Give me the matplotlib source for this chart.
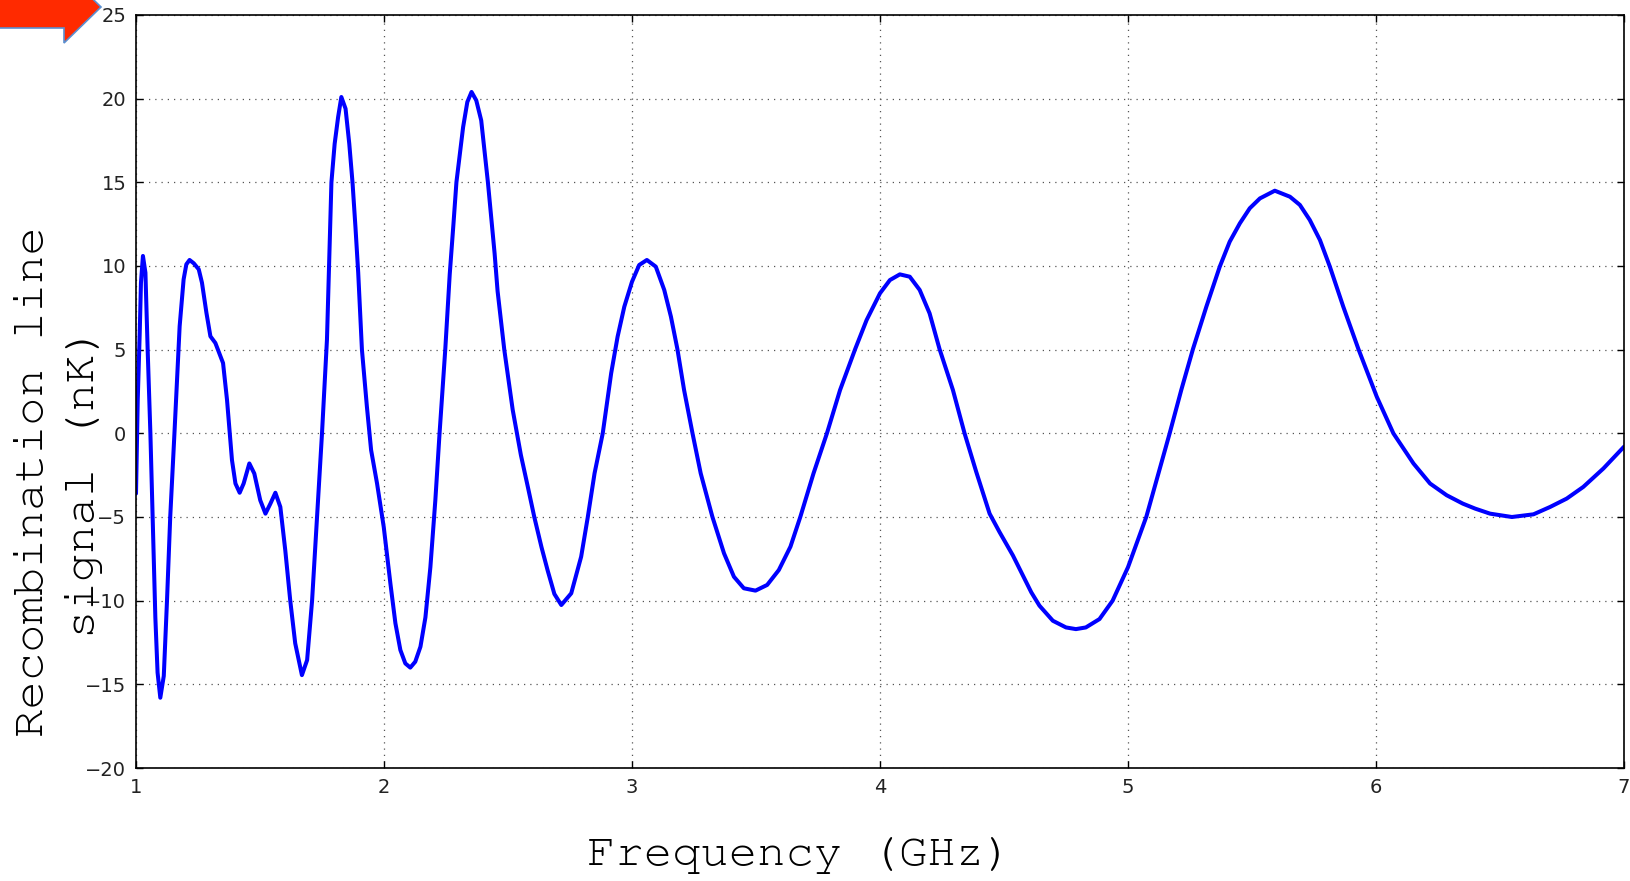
import matplotlib
matplotlib.use("Agg")
import matplotlib.pyplot as plt
from matplotlib.patches import Polygon
import logging
logging.getLogger("matplotlib.font_manager").setLevel(logging.ERROR)

# ---- data ----
freq_ghz = [
    1.000, 1.007, 1.015, 1.020, 1.028, 1.038, 1.047, 1.058, 1.069, 1.078,
    1.087, 1.098, 1.112, 1.125, 1.138, 1.155, 1.176, 1.192, 1.203, 1.216,
    1.233, 1.253, 1.266, 1.284, 1.300, 1.320, 1.351, 1.367, 1.387, 1.401,
    1.418, 1.434, 1.457, 1.477, 1.501, 1.522, 1.542, 1.562, 1.582, 1.602,
    1.622, 1.642, 1.669, 1.690, 1.710, 1.730, 1.750, 1.770, 1.788, 1.801,
    1.815, 1.828, 1.845, 1.860, 1.873, 1.885, 1.896, 1.911, 1.931, 1.948,
    1.972, 1.999, 2.026, 2.046, 2.066, 2.086, 2.106, 2.126, 2.147, 2.167,
    2.187, 2.207, 2.224, 2.247, 2.265, 2.280, 2.292, 2.319, 2.336, 2.353,
    2.372, 2.392, 2.419, 2.446, 2.458, 2.485, 2.519, 2.552, 2.580, 2.606,
    2.635, 2.660, 2.687, 2.715, 2.755, 2.795, 2.822, 2.849, 2.882, 2.916,
    2.942, 2.969, 3.000, 3.029, 3.060, 3.096, 3.130, 3.157, 3.183, 3.210,
    3.244, 3.277, 3.324, 3.371, 3.411, 3.451, 3.498, 3.545, 3.592, 3.639,
    3.679, 3.732, 3.786, 3.839, 3.900, 3.946, 4.000, 4.040, 4.080, 4.120,
    4.160, 4.200, 4.240, 4.294, 4.341, 4.388, 4.442, 4.482, 4.536, 4.580,
    4.610, 4.643, 4.697, 4.750, 4.790, 4.830, 4.885, 4.938, 5.000, 5.074,
    5.121, 5.168, 5.215, 5.262, 5.316, 5.370, 5.410, 5.451, 5.491, 5.532,
    5.592, 5.653, 5.693, 5.733, 5.774, 5.814, 5.868, 5.929, 6.003, 6.070,
    6.151, 6.218, 6.285, 6.350, 6.400, 6.460, 6.548, 6.635, 6.702, 6.769,
    6.836, 6.917, 7.000,
]
signal_nk = [
    -3.6, 2.0, 6.0, 9.0, 10.6, 9.6, 5.0, 0.0, -6.0, -11.0,
    -14.3, -15.8, -14.5, -10.0, -5.0, 0.0, 6.4, 9.2, 10.1, 10.36,
    10.16, 9.8, 9.0, 7.2, 5.8, 5.4, 4.2, 2.0, -1.6, -3.0,
    -3.55, -3.0, -1.8, -2.4, -4.0, -4.8, -4.2, -3.55, -4.4, -7.0,
    -10.0, -12.55, -14.45, -13.55, -10.0, -5.0, 0.0, 5.6, 15.0, 17.3,
    18.9, 20.1, 19.4, 17.3, 15.0, 12.3, 9.6, 5.0, 1.6, -1.0,
    -3.0, -5.6, -9.0, -11.35, -12.95, -13.75, -14.0, -13.65, -12.75, -11.0,
    -8.0, -4.0, 0.0, 5.0, 9.5, 12.5, 15.0, 18.3, 19.8, 20.4,
    19.9, 18.7, 15.0, 10.75, 8.5, 5.0, 1.4, -1.3, -3.2, -5.0,
    -6.8, -8.2, -9.6, -10.26, -9.56, -7.37, -4.98, -2.39, 0.0, 3.59,
    5.78, 7.57, 9.06, 10.06, 10.36, 9.96, 8.57, 6.97, 5.04, 2.59,
    0.0, -2.39, -4.98, -7.17, -8.57, -9.26, -9.4, -9.06, -8.17, -6.77,
    -4.98, -2.39, 0.0, 2.59, 5.04, 6.77, 8.37, 9.16, 9.5, 9.36,
    8.57, 7.17, 5.04, 2.59, 0.0, -2.3, -4.8, -5.9, -7.3, -8.6,
    -9.5, -10.3, -11.2, -11.6, -11.7, -11.6, -11.1, -10.0, -8.0, -4.98,
    -2.5, 0.0, 2.6, 5.04, 7.57, 9.96, 11.45, 12.55, 13.45, 14.04,
    14.5, 14.14, 13.65, 12.75, 11.55, 9.96, 7.57, 5.04, 2.19, 0.0,
    -1.8, -3.0, -3.7, -4.2, -4.5, -4.8, -5.0, -4.84, -4.4, -3.9,
    -3.2, -2.1, -0.8,
]
x_ticks = [1, 2, 3, 4, 5, 6, 7]
y_ticks = [-20, -15, -10, -5, 0, 5, 10, 15, 20, 25]

W, H = 1630, 881
fig = plt.figure(figsize=(W / 100, H / 100), dpi=100)
ax = fig.add_axes([136 / W, 1 - 768 / H, (1624 - 136) / W, (768 - 15) / H])

ax.plot(freq_ghz, signal_nk, color="#0000ff", linewidth=2.9,
        solid_joinstyle="round", solid_capstyle="round")

ax.set_xlim(1, 7)
ax.set_ylim(-20, 25)
ax.set_xticks(x_ticks)
ax.set_yticks(y_ticks)
ax.grid(True, color="#555555", linestyle=(0, (1, 4)), linewidth=0.9)
ax.tick_params(direction="in", top=True, right=True, length=5, width=1,
               labelsize=14, pad=7, colors="black", labelcolor="#222222")
for sp in ax.spines.values():
    sp.set_linewidth(1.2)

mono = ["Courier New", "Nimbus Mono PS", "FreeMono", "Liberation Mono"]
fig.text(59 / W, 1 - 482 / H, "Recombination line\nsignal (nK)", rotation=90,
         ha="center", va="center", multialignment="center",
         fontsize=34, family=mono, linespacing=1.45, color="black")
fig.text(800 / W, 1 - 856 / H, "Frequency (GHz)", ha="center", va="center",
         fontsize=34, family=mono, color="black")

# red arrow in the top-left corner (partly off the page)
pts_px = [(-5, 28), (64, 28), (64, 43), (101, 7), (64, -29), (64, -14), (-5, -14)]
pts = [(x / W, 1 - y / H) for x, y in pts_px]
arrow = Polygon(pts, closed=True, transform=fig.transFigure,
                facecolor="#ff2a00", edgecolor="#5b8fd0", linewidth=1.2)
fig.patches.append(arrow)

fig.savefig("out.png", dpi=100)
